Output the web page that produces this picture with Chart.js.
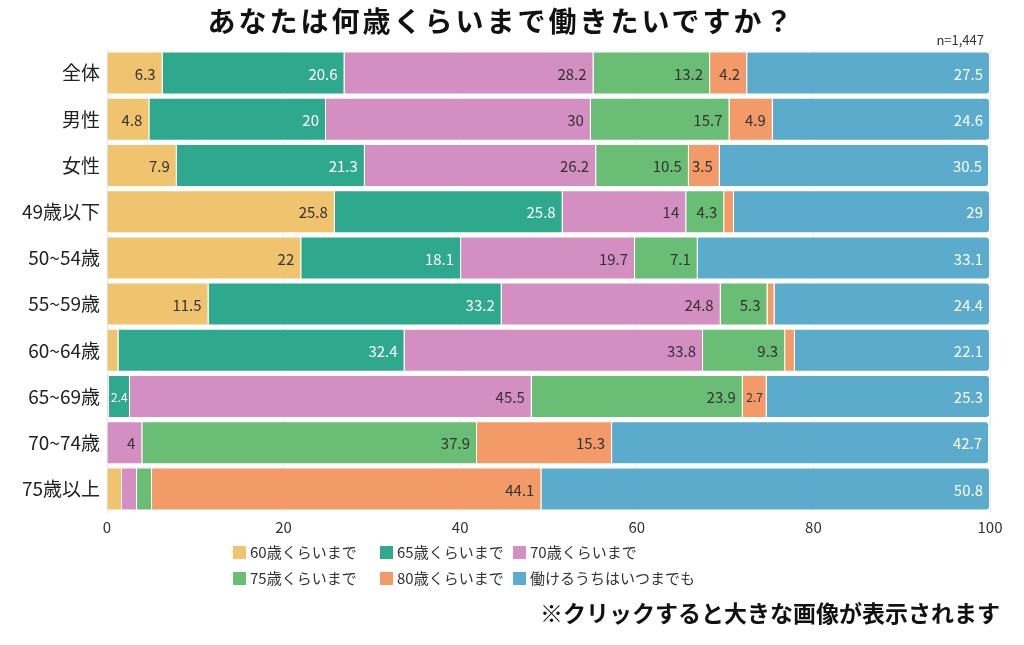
<!DOCTYPE html>
<html lang="ja">
<head>
<meta charset="utf-8">
<script src="https://cdn.jsdelivr.net/npm/chart.js@4.4.0/dist/chart.umd.min.js"></script>
<style>
  html, body { margin: 0; padding: 0; background: #fff; }
  body { width: 1024px; height: 645px; position: relative; overflow: hidden;
         font-family: "Noto Sans CJK JP", "Noto Sans", sans-serif; color: #222; }
  #title { position: absolute; left: 0; width: 1003px; top: 0px; text-align: center;
           font-size: 28px; letter-spacing: 3px; font-weight: bold; color: #111; }
  #n { position: absolute; right: 40px; top: 30px; font-size: 13px; color: #333; }
  #wrap { position: absolute; left: 0; top: 0; width: 1024px; height: 645px; }
  #legend { position: absolute; left: 0; top: 0; }
  .item { position: absolute; font-size: 15px; line-height: 20px; color: #333; white-space: nowrap; display: flex; align-items: center; }
  .item span.box { display: inline-block; width: 13px; height: 13px; margin-right: 4px; }
  #note { position: absolute; right: 24px; top: 595px; font-size: 23px; font-weight: bold; color: #111; }
</style>
</head>
<body>
<div id="wrap"><canvas id="c"></canvas></div>
<div id="title">あなたは何歳くらいまで働きたいですか？</div>
<div id="n">n=1,447</div>
<div id="legend"></div>
<div id="note">※クリックすると大きな画像が表示されます</div>
<script>
// categories (rows)
const groups = ['全体', '男性', '女性', '49歳以下', '50~54歳', '55~59歳', '60~64歳', '65~69歳', '70~74歳', '75歳以上'];

// answer series, % per row
const upTo60  = [6.3, 4.8, 7.9, 25.8, 22, 11.5, 1.3, 0.2, 0, 1.7];
const upTo65  = [20.6, 20, 21.3, 25.8, 18.1, 33.2, 32.4, 2.4, 0, 0];
const upTo70  = [28.2, 30, 26.2, 14, 19.7, 24.8, 33.8, 45.5, 4, 1.7];
const upTo75  = [13.2, 15.7, 10.5, 4.3, 7.1, 5.3, 9.3, 23.9, 37.9, 1.7];
const upTo80  = [4.2, 4.9, 3.5, 1.1, 0, 0.8, 1.1, 2.7, 15.3, 44.1];
const forever = [27.5, 24.6, 30.5, 29, 33.1, 24.4, 22.1, 25.3, 42.7, 50.8];

const seriesNames = ['60歳くらいまで', '65歳くらいまで', '70歳くらいまで', '75歳くらいまで', '80歳くらいまで', '働けるうちはいつまでも'];
const seriesColors = ['#F0C36E', '#2EA98D', '#D48FC2', '#6ABD74', '#F39A69', '#5AABCC'];
const labelColors = ['#333', '#fff', '#333', '#333', '#333', '#fff'];
const xTicks = [0, 20, 40, 60, 80, 100];

const seriesData = [upTo60, upTo65, upTo70, upTo75, upTo80, forever];

const FONT = '"Noto Sans CJK JP", "Noto Sans", sans-serif';

// value labels drawn at the right end of each segment
const segLabels = {
  id: 'segLabels',
  afterDatasetsDraw(chart) {
    const ctx = chart.ctx;
    ctx.save();
    ctx.textBaseline = 'middle';
    chart.data.datasets.forEach((ds, di) => {
      const meta = chart.getDatasetMeta(di);
      meta.data.forEach((bar, i) => {
        const v = ds.data[i];
        if (v < 2) return;
        const txt = String(v);
        const w = Math.abs(bar.x - bar.base);
        ctx.font = '15px ' + FONT;
        let tw = ctx.measureText(txt).width;
        ctx.fillStyle = labelColors[di];
        if (tw + 10 > w) {
          ctx.font = '12px ' + FONT;
          ctx.textAlign = 'center';
          ctx.fillText(txt, (bar.x + bar.base) / 2, bar.y + 1);
        } else {
          ctx.textAlign = 'right';
          ctx.fillText(txt, bar.x - 7, bar.y + 1);
        }
      });
    });
    ctx.restore();
  }
};

new Chart(document.getElementById('c'), {
  type: 'bar',
  data: {
    labels: groups,
    datasets: seriesData.map((d, i) => ({
      label: seriesNames[i],
      data: d,
      backgroundColor: seriesColors[i],
      borderColor: '#ffffff',
      borderWidth: 1,
      borderRadius: 4,
      borderSkipped: 'start',
      barPercentage: 0.93,
      categoryPercentage: 1
    }))
  },
  options: {
    indexAxis: 'y',
    responsive: true,
    maintainAspectRatio: false,
    animation: false,
    layout: { padding: { top: 50, right: 34, bottom: 107, left: 0 } },
    plugins: { legend: { display: false }, tooltip: { enabled: false } },
    scales: {
      x: {
        stacked: true, min: 0, max: 100,
        afterBuildTicks: s => { s.ticks = xTicks.map(v => ({ value: v })); },
        afterFit: s => { s.height = 26; },
        grid: { color: '#ececec', drawTicks: false },
        border: { display: false },
        ticks: { color: '#333', font: { family: FONT, size: 15 }, padding: 6 }
      },
      y: {
        stacked: true,
        afterFit: s => { s.width = 107; },
        grid: { display: false, drawTicks: false },
        border: { color: '#e4e4e4' },
        ticks: { color: '#222', font: { family: FONT, size: 19 }, padding: 7 }
      }
    }
  },
  plugins: [segLabels]
});

// legend built from the same series
const legendPos = [[233, 552], [380, 552], [513, 552], [233, 578], [380, 578], [513, 578]];
const lg = document.getElementById('legend');
seriesNames.forEach((name, i) => {
  const el = document.createElement('div');
  el.className = 'item';
  el.style.left = legendPos[i][0] + 'px';
  el.style.top = (legendPos[i][1] - 10) + 'px';
  el.innerHTML = '<span class="box" style="background:' + seriesColors[i] + '"></span>' + name;
  lg.appendChild(el);
});
</script>
</body>
</html>
